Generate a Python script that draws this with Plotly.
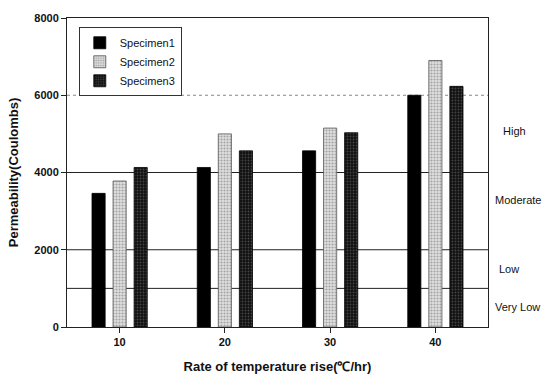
import plotly.graph_objects as go

categories = ["10", "20", "30", "40"]
specimen1 = [3460, 4130, 4560, 6000]
specimen2 = [3780, 5000, 5150, 6900]
specimen3 = [4130, 4560, 5030, 6230]
class_bounds = [1000, 2000, 4000]
high_bound = 6000
class_labels = ["Very Low", "Low", "Moderate", "High"]
class_label_y = [520, 1500, 3300, 5070]
class_label_x = [1.013, 1.022, 1.013, 1.03]

fig = go.Figure()
fig.add_trace(go.Bar(x=categories, y=specimen1, name="Specimen1",
                     marker=dict(color="black", line=dict(color="black", width=0.8))))
fig.add_trace(go.Bar(x=categories, y=specimen2, name="Specimen2",
                     marker=dict(color="#d8d8d8", line=dict(color="#555555", width=0.8),
                                 pattern=dict(shape=".", fgcolor="#666666", bgcolor="#e0e0e0", size=3, solidity=0.4))))
fig.add_trace(go.Bar(x=categories, y=specimen3, name="Specimen3",
                     marker=dict(color="#222222", line=dict(color="black", width=0.8),
                                 pattern=dict(shape=".", fgcolor="#777777", bgcolor="#111111", size=3, solidity=0.3))))

shapes = []
for b in class_bounds:
    shapes.append(dict(type="line", xref="paper", x0=0, x1=1, yref="y", y0=b, y1=b,
                       line=dict(color="#222222", width=1), layer="below"))
shapes.append(dict(type="line", xref="paper", x0=0, x1=1, yref="y", y0=high_bound, y1=high_bound,
                   line=dict(color="#888888", width=1, dash="dot"), layer="below"))

annotations = []
for lab, yy, xx in zip(class_labels, class_label_y, class_label_x):
    annotations.append(dict(text=lab, xref="paper", x=xx, yref="y", y=yy, xanchor="left",
                            yanchor="middle", showarrow=False,
                            font=dict(family="Arial, Liberation Sans", size=11, color="#111111")))

fig.update_layout(
    width=542, height=384,
    margin=dict(l=67, r=54, t=13, b=57),
    paper_bgcolor="white", plot_bgcolor="white",
    barmode="group", bargap=0.4, bargroupgap=0.375,
    shapes=shapes, annotations=annotations,
    showlegend=True,
    legend=dict(x=0.028, y=0.97, xanchor="left", yanchor="top",
                bordercolor="#333333", borderwidth=1, bgcolor="white",
                font=dict(family="Arial, Liberation Sans", size=11, color="#111111"),
                itemwidth=30, tracegroupgap=0),
    font=dict(family="Arial, Liberation Sans", color="#111111"),
)
fig.update_xaxes(
    type="category", range=[-0.5, 3.5],
    showline=True, linecolor="#222222", linewidth=1, mirror=True,
    ticks="outside", ticklen=5, tickcolor="#222222",
    tickfont=dict(size=11, family="Arial Black, Liberation Sans", weight="bold"),
    title=dict(text="<b>Rate of temperature rise(℃/hr)</b>", font=dict(size=13), standoff=14),
    showgrid=False,
)
fig.update_yaxes(
    range=[0, 8000], tickvals=[0, 2000, 4000, 6000, 8000],
    showline=True, linecolor="#222222", linewidth=1, mirror=True,
    ticks="outside", ticklen=5, tickcolor="#222222",
    tickfont=dict(size=11, weight="bold"),
    title=dict(text="<b>Permeability(Coulombs)</b>", font=dict(size=13), standoff=12),
    showgrid=False, zeroline=False,
)

fig.write_html("out.html")
